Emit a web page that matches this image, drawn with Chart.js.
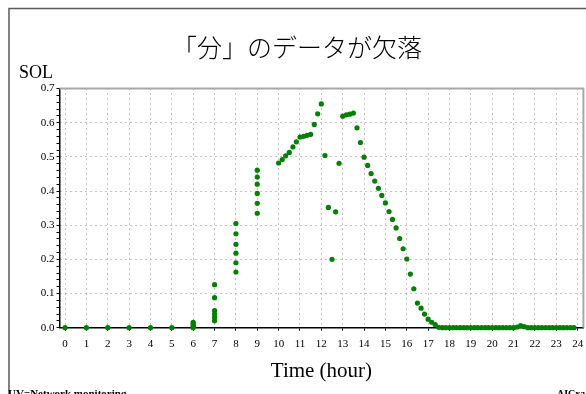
<!DOCTYPE html>
<html>
<head>
  <meta charset="utf-8">
  <title>SOL</title>
  <style>
    html, body { margin: 0; padding: 0; background: #fff; }
    #wrap { width: 586px; height: 394px; }
  </style>
  <script src="https://cdn.jsdelivr.net/npm/chart.js"></script>
</head>
<body>
  <div id="wrap"><canvas id="solChart" width="586" height="394"></canvas></div>

  <script>
    // Time of each sample (hour) - the minutes are missing before 10:00
    const sampleTimes = [
      0, 1, 2, 3, 4, 5,
      6, 6, 6, 6, 6,
      7, 7, 7, 7, 7, 7,
      8, 8, 8, 8, 8, 8,
      9, 9, 9, 9, 9, 9,
      10, 10.17, 10.33, 10.5, 10.67, 10.83,
      11, 11.17, 11.33, 11.5, 11.67, 11.83,
      12, 12.17, 12.33, 12.5, 12.67, 12.83,
      13, 13.17, 13.33, 13.5, 13.67, 13.83,
      14, 14.17, 14.33, 14.5, 14.67, 14.83,
      15, 15.17, 15.33, 15.5, 15.67, 15.83,
      16, 16.17, 16.33, 16.5, 16.67, 16.83,
      17, 17.17, 17.33, 17.5, 17.67, 17.83,
      18, 18.17, 18.33, 18.5, 18.67, 18.83,
      19, 19.17, 19.33, 19.5, 19.67, 19.83,
      20, 20.17, 20.33, 20.5, 20.67, 20.83,
      21, 21.17, 21.33, 21.5, 21.67, 21.83,
      22, 22.17, 22.33, 22.5, 22.67, 22.83,
      23, 23.17, 23.33, 23.5, 23.67, 23.83
    ];

    // SOL value of each sample
    const solValues = [
      0, 0, 0, 0, 0, 0,
      0, 0.004, 0.008, 0.012, 0.016,
      0.02, 0.03, 0.04, 0.05, 0.088, 0.126,
      0.163, 0.19, 0.218, 0.244, 0.275, 0.305,
      0.335, 0.364, 0.393, 0.42, 0.441, 0.461,
      0.482, 0.492, 0.503, 0.513, 0.529, 0.544,
      0.558, 0.56, 0.563, 0.566, 0.595, 0.626,
      0.655, 0.504, 0.352, 0.2, 0.339, 0.481,
      0.619, 0.623, 0.625, 0.628, 0.585, 0.542,
      0.499, 0.475, 0.451, 0.429, 0.408, 0.387,
      0.365, 0.34, 0.317, 0.292, 0.261, 0.231,
      0.201, 0.157, 0.114, 0.072, 0.057, 0.04,
      0.025, 0.016, 0.009, 0.001, 0, 0,
      0, 0, 0, 0, 0, 0,
      0, 0, 0, 0, 0, 0,
      0, 0, 0, 0, 0, 0,
      0, 0.002, 0.006, 0.003, 0, 0,
      0, 0, 0, 0, 0, 0,
      0, 0, 0, 0, 0, 0
    ];

    const hourTicks = [0, 1, 2, 3, 4, 5, 6, 7, 8, 9, 10, 11, 12, 13, 14, 15, 16, 17, 18, 19, 20, 21, 22, 23, 24];
    const solTicks = [0.0, 0.1, 0.2, 0.3, 0.4, 0.5, 0.6, 0.7];

    const titleText = '「分」のデータが欠落';
    const yLabel = 'SOL';
    const xLabel = 'Time (hour)';
    const footLeft = 'UV=Network monitoring';
    const footRight = 'AICxa';

    const serif = '"Liberation Serif", "DejaVu Serif", serif';

    // minor ticks every 0.02 on the SOL axis
    const solMinor = [];
    for (let i = 0; i <= 35; i++) solMinor.push(i / 50);
    const isMajor = v => solTicks.some(t => Math.abs(t - v) < 1e-6);

    // frame, title and loose texts
    const decorPlugin = {
      id: 'decor',
      beforeDatasetsDraw(chart) {
        const ctx = chart.ctx;
        const a = chart.chartArea;
        ctx.save();
        ctx.strokeStyle = '#a8a8a8';
        ctx.lineWidth = 2;
        ctx.beginPath();
        ctx.moveTo(a.left, a.top);
        ctx.lineTo(a.right, a.top);
        ctx.lineTo(a.right, a.bottom);
        ctx.stroke();
        ctx.restore();
      },
      afterDraw(chart) {
        const ctx = chart.ctx;
        ctx.save();
        ctx.strokeStyle = '#5a5a5a';
        ctx.lineWidth = 1.5;
        ctx.beginPath();
        ctx.moveTo(9, 394);
        ctx.lineTo(9, 8.5);
        ctx.lineTo(586, 8.5);
        ctx.stroke();

        ctx.fillStyle = '#000';
        ctx.textBaseline = 'middle';
        ctx.textAlign = 'center';
        ctx.font = '300 25px "Noto Sans CJK JP"';
        ctx.fillText(titleText, 297, 47);

        ctx.textAlign = 'left';
        ctx.font = '18px ' + serif;
        ctx.fillText(yLabel, 19, 73);

        ctx.textBaseline = 'alphabetic';
        ctx.font = 'bold 11px ' + serif;
        ctx.fillText(footLeft, 8, 397);
        ctx.font = 'bold 10px ' + serif;
        ctx.fillText(footRight, 557, 397);
        ctx.restore();
      }
    };

    const points = sampleTimes.map((t, i) => ({ x: t, y: solValues[i] }));

    new Chart(document.getElementById('solChart'), {
      type: 'scatter',
      data: {
        datasets: [{
          label: 'SOL',
          data: points,
          backgroundColor: '#008000',
          borderWidth: 0,
          pointRadius: 2.6,
          pointHoverRadius: 2.6,
          clip: false
        }]
      },
      options: {
        responsive: false,
        animation: false,
        layout: { padding: { top: 88.5, left: 0, right: 0.5, bottom: 0 } },
        plugins: {
          legend: { display: false },
          title: { display: false },
          tooltip: { enabled: false }
        },
        scales: {
          x: {
            type: 'linear',
            min: -0.26,
            max: 24.27,
            afterBuildTicks: s => { s.ticks = hourTicks.map(v => ({ value: v })); },
            afterFit: s => {
              s.height = 66.3;
              s.paddingLeft = 0;
              s.paddingRight = 0;
            },
            ticks: {
              autoSkip: false,
              maxRotation: 0,
              color: '#000',
              padding: 7,
              font: { family: serif, size: 11 },
              callback: v => String(v)
            },
            grid: { color: '#8c8c8c', tickColor: '#000', tickLength: 3, lineWidth: 1 },
            border: { color: '#000', width: 1.5, dash: [1, 4] },
            title: {
              display: true,
              text: xLabel,
              color: '#000',
              font: { family: serif, size: 21 },
              padding: { top: 0, bottom: 10 }
            }
          },
          y: {
            type: 'linear',
            min: 0,
            max: 0.7,
            afterBuildTicks: s => { s.ticks = solMinor.map(v => ({ value: v })); },
            afterFit: s => {
              s.width = 59.5;
              s.paddingTop = 0;
              s.paddingBottom = 0;
            },
            ticks: {
              autoSkip: false,
              color: '#000',
              padding: 2,
              font: { family: serif, size: 11 },
              callback: v => isMajor(v) ? v.toFixed(1) : ''
            },
            grid: {
              color: c => (c.tick && isMajor(c.tick.value) && c.tick.value > 0 && c.tick.value < 0.7) ? '#8c8c8c' : 'rgba(0,0,0,0)',
              tickColor: '#000',
              tickLength: 3,
              lineWidth: 1
            },
            border: { color: '#000', width: 1.5, dash: [1, 4] }
          }
        }
      },
      plugins: [decorPlugin]
    });
  </script>
</body>
</html>
